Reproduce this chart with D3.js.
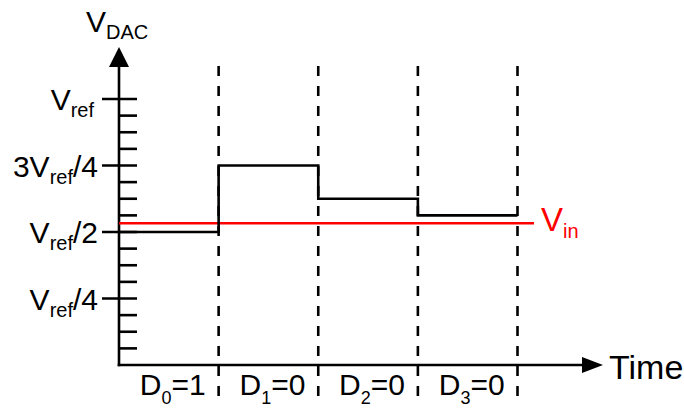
<!DOCTYPE html>
<meta charset="utf-8">
<head>
	<title>SAR DAC</title>
</head>

<style>

body{
	margin: 0;
	background: #fff;
}

svg{
	display: block;
	font-family: Arial, "Liberation Sans", sans-serif;
}

.axis line, .axis path{
	stroke: #000;
	stroke-width: 2.6;
	fill: none;
}

</style>

<body>

<svg width="684" height="409"></svg>

<script src="https://cdnjs.cloudflare.com/ajax/libs/d3/7.8.5/d3.min.js"></script>
<script>

// DAC output per step (fraction of Vref), starting with D0
var bitIndex = [0, 1, 2, 3];
var bitValue = [1, 0, 0, 0];
var dacLevel = [0.5, 0.75, 0.625, 0.5625];
var vin = 0.533;

// labelled ticks on the voltage axis
var majorTicks = [0.25, 0.5, 0.75, 1];
var tickPrefix = ['V', 'V', '3V', 'V'];
var tickSuffix = ['/4', '/2', '/4', ''];

var svg = d3.select('svg');

var x = d3.scaleLinear()
	.domain([0, 4])
	.range([119, 517.5]);

var y = d3.scaleLinear()
	.domain([0, 1])
	.range([365, 99]);

// dashed step boundaries
svg.append('g')
	.selectAll('line')
	.data([1, 2, 3, 4])
	.enter()
	.append('line')
	.attr('x1', function(d){ return x(d); })
	.attr('x2', function(d){ return x(d); })
	.attr('y1', 66)
	.attr('y2', 406)
	.attr('stroke', '#000')
	.attr('stroke-width', 2.6)
	.attr('stroke-dasharray', '10,10');

// minor ticks every Vref/16
var minorTicks = d3.range(1, 17).map(function(i){ return i / 16; });

var axisG = svg.append('g').attr('class', 'axis');

axisG.selectAll('line.minor')
	.data(minorTicks)
	.enter()
	.append('line')
	.attr('class', 'minor')
	.attr('x1', function(d){ return majorTicks.indexOf(d) >= 0 ? 102 : x(0); })
	.attr('x2', 137)
	.attr('y1', function(d){ return y(d); })
	.attr('y2', function(d){ return y(d); });

// y axis + arrow
axisG.append('line')
	.attr('x1', x(0)).attr('x2', x(0))
	.attr('y1', y(0) + 1.3).attr('y2', 66);
svg.append('path')
	.attr('d', 'M' + x(0) + ',47 L' + (x(0) - 10) + ',67 L' + (x(0) + 10) + ',67 Z')
	.attr('fill', '#000');

// x axis + arrow
axisG.append('line')
	.attr('x1', x(0) - 1.3).attr('x2', 583)
	.attr('y1', y(0)).attr('y2', y(0));
svg.append('path')
	.attr('d', 'M603,' + y(0) + ' L582,' + (y(0) - 8) + ' L582,' + (y(0) + 8) + ' Z')
	.attr('fill', '#000');

// Vin
svg.append('line')
	.attr('x1', x(0)).attr('x2', 534)
	.attr('y1', y(vin)).attr('y2', y(vin))
	.attr('stroke', '#ff0000')
	.attr('stroke-width', 2.6);

// DAC staircase
var stepPts = dacLevel.map(function(d, i){ return [i, d]; });
stepPts.push([4, dacLevel[dacLevel.length - 1]]);

var stepLine = d3.line()
	.x(function(d){ return x(d[0]); })
	.y(function(d){ return y(d[1]); })
	.curve(d3.curveStepAfter);

svg.append('path')
	.attr('d', stepLine(stepPts))
	.attr('fill', 'none')
	.attr('stroke', '#000')
	.attr('stroke-width', 2.6);

// tick labels
var tl = svg.append('g')
	.selectAll('text')
	.data(majorTicks)
	.enter()
	.append('text')
	.attr('x', function(d, i){ return tickSuffix[i] ? 98 : 94; })
	.attr('y', function(d){ return y(d) + 11; })
	.attr('text-anchor', 'end')
	.attr('font-size', 30);
tl.append('tspan').text(function(d, i){ return tickPrefix[i]; });
tl.append('tspan').attr('font-size', 20).attr('dy', 7).text('ref');
tl.append('tspan').attr('dy', -7).text(function(d, i){ return tickSuffix[i]; });

// axis titles
var vdac = svg.append('text').attr('x', 86).attr('y', 32).attr('font-size', 30);
vdac.append('tspan').text('V');
vdac.append('tspan').attr('font-size', 20).attr('dy', 7).text('DAC');

svg.append('text')
	.attr('x', 609).attr('y', 379)
	.attr('font-size', 34)
	.text('Time');

var vinLabel = svg.append('text')
	.attr('x', 541).attr('y', 231)
	.attr('font-size', 33)
	.attr('fill', '#ff0000');
vinLabel.append('tspan').text('V');
vinLabel.append('tspan').attr('font-size', 20).attr('dy', 7).text('in');

// bit labels
var bl = svg.append('g')
	.selectAll('text')
	.data(bitIndex)
	.enter()
	.append('text')
	.attr('x', function(d){ return x(d + 0.5) + 4; })
	.attr('y', 395)
	.attr('text-anchor', 'middle')
	.attr('font-size', 30);
bl.append('tspan').text('D');
bl.append('tspan').attr('font-size', 18).attr('dy', 9).text(function(d){ return d; });
bl.append('tspan').attr('dy', -9).text(function(d, i){ return '=' + bitValue[i]; });

</script>

</body>
</html>
